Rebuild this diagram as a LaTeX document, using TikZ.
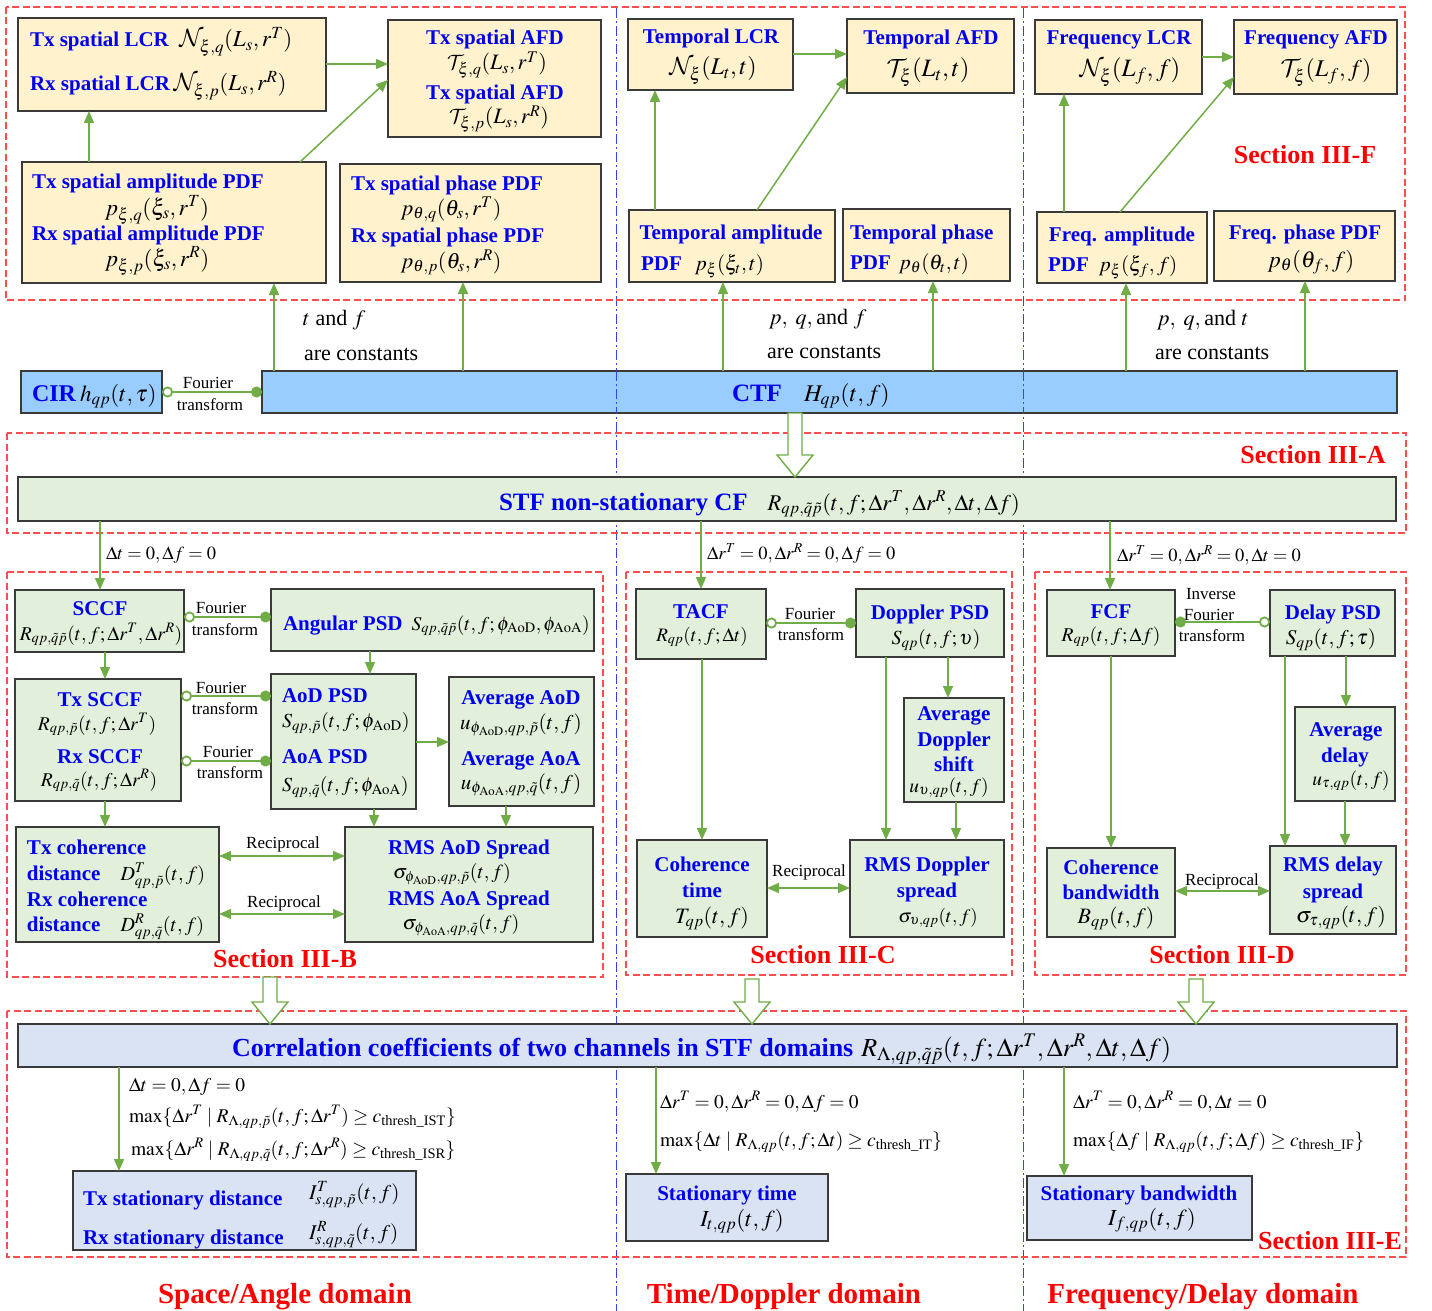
\documentclass[tikz,border=0pt]{standalone}
\usepackage{amsmath}
\usepackage{mathptmx}
\DeclareMathAlphabet{\mathcal}{OMS}{cmsy}{m}{n}
\usepackage{fontspec}
\setmainfont{Liberation Serif}
\usetikzlibrary{arrows.meta,fit,calc}
\definecolor{yel}{HTML}{FFF2CC}
\definecolor{grn}{HTML}{E2EFDA}
\definecolor{cblu}{HTML}{99CCFF}
\definecolor{lblu}{HTML}{DAE3F3}
\definecolor{tblue}{HTML}{0000F0}
\definecolor{bord}{HTML}{3A3A3A}
\definecolor{agreen}{HTML}{70AD47}
\definecolor{rdash}{HTML}{FF4D4D}
\definecolor{dblue}{HTML}{3344FF}
\definecolor{sred}{HTML}{FF0000}
\newcommand\myfs[1]{\fontsize{#1}{#1}\selectfont}
\newcommand\mk[2][20]{{\color{black}\myfs{#1}\mdseries$#2$}}
\newcommand\hollowarrow[2]{\draw[harrow] let \p1=(#1), \p2=(#2) in
  (\x1-7pt,\y1) -- (\x1+7pt,\y1) -- (\x1+7pt,\y2+22pt) -- (\x1+18pt,\y2+22pt) --
  (\x1,\y2) -- (\x1-18pt,\y2+22pt) -- (\x1-7pt,\y2+22pt) -- cycle;}
\tikzset{
  every node/.style={inner sep=0pt, outer sep=0pt},
  bx/.style={draw=bord, line width=1.3pt, inner sep=0pt},
  ybx/.style={bx, fill=yel}, gbx/.style={bx, fill=grn},
  cbx/.style={bx, fill=cblu}, lbx/.style={bx, fill=lblu},
  tb/.style={text=tblue, font=\myfs{21}\bfseries, anchor=base},
  tbw/.style={tb, anchor=base west},
  mt/.style={font=\myfs{22}, anchor=base},
  mtw/.style={mt, anchor=base west},
  txt/.style={font=\myfs{22}, anchor=base west},
  sm/.style={font=\myfs{17}, anchor=base},
  smw/.style={sm, anchor=base west},
  eq/.style={font=\myfs{19.5}, anchor=base west},
  sec/.style={text=sred, font=\myfs{26}\bfseries, anchor=base},
  domt/.style={text=sred, font=\myfs{29}\bfseries, anchor=base},
  arr/.style={draw=agreen, line width=1.5pt, -{Triangle[length=12pt,width=10pt]}},
  darr/.style={draw=agreen, line width=1.5pt, {Triangle[length=12pt,width=10pt]}-{Triangle[length=12pt,width=10pt]}},
  ft/.style={draw=agreen, line width=1.8pt, {Circle[length=11pt,width=11pt,fill=white]}-{Circle[length=11pt,width=11pt]}},
  ift/.style={draw=agreen, line width=1.8pt, {Circle[length=11pt,width=11pt]}-{Circle[length=11pt,width=11pt,fill=white]}},
  secbox/.style={draw=rdash, line width=1.1pt, dash pattern=on 7pt off 3.5pt},
  domline/.style={draw=dblue, line width=1pt, dash pattern=on 10pt off 3pt on 2pt off 3pt},
  harrow/.style={draw=agreen, line width=1.4pt, fill=white, line join=miter}
}
\begin{document}
\begin{tikzpicture}[x=1pt,y=-1pt]
\useasboundingbox (0,0) rectangle (1432,1311);
% domain separators
\draw[domline] (616,8) -- (616,1311);
\draw[domline] (1023,8) -- (1023,1311);
% section frames
\draw[secbox] (6,7) rectangle (1405,300);
\draw[secbox] (7,433) rectangle (1406,533);
\draw[secbox] (7,572) rectangle (603,977);
\draw[secbox] (626,572) rectangle (1012,975);
\draw[secbox] (1035,572) rectangle (1406,975);
\draw[secbox] (7,1011) rectangle (1406,1257);

% ---------- top boxes ----------
\node[ybx, fit={(18,18)(326,111)}] (lcr) {};
\node[ybx, fit={(388,20)(601,137)}] (afd) {};
\node[ybx, fit={(22,162)(326,283)}] (amp) {};
\node[ybx, fit={(340,164)(601,282)}] (pha) {};
\node[ybx, fit={(628,19)(793,90)}] (tlcr) {};
\node[ybx, fit={(847,19)(1014,93)}] (tafd) {};
\node[ybx, fit={(629,210)(835,282)}] (tamp) {};
\node[ybx, fit={(843,209)(1010,281)}] (tpha) {};
\node[ybx, fit={(1035,20)(1202,94)}] (flcr) {};
\node[ybx, fit={(1234,20)(1397,94)}] (fafd) {};
\node[ybx, fit={(1037,212)(1207,283)}] (famp) {};
\node[ybx, fit={(1214,211)(1395,281)}] (fpha) {};

\node[tbw] (lcrA) at (30,47) {Tx spatial LCR\enspace\mk[23]{\mathcal{N}_{\xi,q}(L_s,r^T)}};
\node[tbw] (lcrB) at (30,91) {Rx spatial LCR\,\mk[23]{\mathcal{N}_{\xi,p}(L_s,r^R)}};
\node[tb] (afdA) at (495,45) {Tx spatial AFD};
\node[mt] (afdB) at (497,70) {$\mathcal{T}_{\xi,q}(L_s,r^T)$};
\node[tb] (afdC) at (495,100) {Tx spatial AFD};
\node[mt] (afdD) at (499,124) {$\mathcal{T}_{\xi,p}(L_s,r^R)$};
\node[tbw] (ampA) at (32,188) {Tx spatial amplitude PDF};
\node[mt, font=\myfs{23}] (ampB) at (157,215) {$p_{\xi,q}(\xi_s,r^T)$};
\node[tbw] (ampC) at (32,240) {Rx spatial amplitude PDF};
\node[mt, font=\myfs{23}] (ampD) at (157,266) {$p_{\xi,p}(\xi_s,r^R)$};
\node[tbw] (phaA) at (351,190) {Tx spatial phase PDF};
\node[mt] (phaB) at (451,215) {$p_{\theta,q}(\theta_s,r^T)$};
\node[tbw] (phaC) at (351,242) {Rx spatial phase PDF};
\node[mt] (phaD) at (451,268) {$p_{\theta,p}(\theta_s,r^R)$};
\node[tb] (tlcrA) at (711,44) {Temporal LCR};
\node[mt, font=\myfs{24}] (tlcrB) at (713,75) {$\mathcal{N}_{\xi}(L_t,t)$};
\node[tb] (tafdA) at (931,45) {Temporal AFD};
\node[mt, font=\myfs{25}] (tafdB) at (928,77) {$\mathcal{T}_{\xi}(L_t,t)$};
\node[tb] (tampA) at (731,239) {Temporal amplitude};
\node[tbw] (tampB) at (641,270) {PDF\hspace{13pt}\mk[21]{p_{\xi}(\xi_t,t)}};
\node[tbw] (tphaA) at (850,239) {Temporal phase};
\node[tbw] (tphaB) at (850,269) {PDF\hspace{8pt}\mk[21]{p_{\theta}(\theta_t,t)}};
\node[tb] (flcrA) at (1119,45) {Frequency LCR};
\node[mt, font=\myfs{25}] (flcrB) at (1130,77) {$\mathcal{N}_{\xi}(L_f,f)$};
\node[tb] (fafdA) at (1316,45) {Frequency AFD};
\node[mt, font=\myfs{24}] (fafdB) at (1326,77) {$\mathcal{T}_{\xi}(L_f,f)$};
\node[tb] (fampA) at (1122,241) {Freq. amplitude};
\node[tbw] (fampB) at (1048,271) {PDF\hspace{10pt}\mk[21]{p_{\xi}(\xi_f,f)}};
\node[tb] (fphaA) at (1305,239) {Freq. phase PDF};
\node[mt, font=\myfs{23}] (fphaB) at (1311,267) {$p_{\theta}(\theta_f,f)$};
\node[sec] (secF) at (1305,164) {Section III-F};

\draw[arr] (amp.north -| 89,0) -- (lcr.south -| 89,0);
\draw[arr] (amp.north -| 300,0) -- (afd.west |- 0,80);
\draw[arr] (lcr.east |- 0,64) -- (afd.west |- 0,64);
\draw[arr] (tamp.north -| 655,0) -- (tlcr.south -| 655,0);
\draw[arr] (tamp.north -| 757,0) -- (tafd.west |- 0,77);
\draw[arr] (tlcr.east |- 0,54) -- (tafd.west |- 0,54);
\draw[arr] (famp.north -| 1064,0) -- (flcr.south -| 1064,0);
\draw[arr] (famp.north -| 1120,0) -- (fafd.west |- 0,77);
\draw[arr] (flcr.east |- 0,57) -- (fafd.west |- 0,57);

% ---------- CIR / CTF ----------
\node[cbx, fit={(21,371)(162,413)}] (cir) {};
\node[cbx, fit={(262,371)(1397,413)}] (ctf) {};
\draw[domline] (ctf.north -| 616,0) -- (ctf.south -| 616,0);
\draw[domline] (ctf.north -| 1023,0) -- (ctf.south -| 1023,0);
\node[tbw, font=\myfs{24}\bfseries] (cirT) at (32,401) {CIR\,\mk[23]{h_{qp}(t,\tau)}};
\node[sm] (ftA) at (208,388) {Fourier};
\node[sm] (ftB) at (210,410) {transform};
\node[tbw, font=\myfs{25}\bfseries] (ctfT) at (732,401) {CTF\hspace{22pt}\mk[24]{H_{qp}(t,f)}};
\draw[ft] (cir.east |- 0,392) -- (ctf.west |- 0,392);
\foreach \xx/\tg in {274/amp,463/pha,723/tamp,933/tpha,1126/famp,1305/fpha}
  \draw[arr] (ctf.north -| \xx,0) -- (\tg.south -| \xx,0);
\node[txt] (c1a) at (303,325) {$t$ and $f$};
\node[txt] (c1b) at (304,360) {are constants};
\node[txt] (c2a) at (769,324) {$p,\ q,$\,and $f$};
\node[txt] (c2b) at (767,358) {are constants};
\node[txt] (c3a) at (1157,325) {$p,\ q,$\,and $t$};
\node[txt] (c3b) at (1155,359) {are constants};

% ---------- STF ----------
\node[gbx, fit={(18,477)(1396,521)}] (stf) {};
\node[tbw, font=\myfs{25}\bfseries] (stfT) at (499,510) {STF non-stationary CF\hspace{20pt}\mk[22.5]{R_{qp,\tilde{q}\tilde{p}}(t,f;\Delta r^T,\Delta r^R,\Delta t,\Delta f)}};
\node[sec] (secA) at (1313,463) {Section III-A};
\hollowarrow{ctf.south -| 795,0}{stf.north -| 795,0}

\node[smw, font=\myfs{18.5}] (condB) at (106,559) {$\Delta t=0,\Delta f=0$};
\node[smw, font=\myfs{18.5}] (condC) at (707,559) {$\Delta r^T=0,\Delta r^R=0,\Delta f=0$};
\node[smw, font=\myfs{18.5}] (condD) at (1117,561) {$\Delta r^T=0,\Delta r^R=0,\Delta t=0$};

% ---------- Section III-B ----------
\node[gbx, fit={(15,590)(184,652)}] (sccf) {};
\node[gbx, fit={(271,589)(594,651)}] (apsd) {};
\node[gbx, fit={(15,679)(181,801)}] (txsccf) {};
\node[gbx, fit={(271,674)(416,809)}] (aodpsd) {};
\node[gbx, fit={(449,677)(594,806)}] (avgaod) {};
\node[gbx, fit={(16,827)(219,942)}] (coh) {};
\node[gbx, fit={(345,827)(593,942)}] (rms) {};

\node[tb] (sccfA) at (100,615) {SCCF};
\node[mt] (sccfB) at (101,640) {\mk[19.5]{R_{qp,\tilde{q}\tilde{p}}(t,f;\Delta r^T,\Delta r^R)}};
\node[tbw] (apsdA) at (283,630) {Angular PSD\hspace{9pt}\mk[19.5]{S_{qp,\tilde{q}\tilde{p}}(t,f;\phi_{\mathrm{AoD}},\phi_{\mathrm{AoA}})}};
\node[sm] (ft1a) at (221,613) {Fourier};
\node[sm] (ft1b) at (225,635) {transform};
\node[tb] (txsA) at (100,706) {Tx SCCF};
\node[mt] (txsB) at (97,730) {\mk[19.5]{R_{qp,\tilde{p}}(t,f;\Delta r^T)}};
\node[tb] (rxsA) at (100,763) {Rx SCCF};
\node[mt] (rxsB) at (99,786) {\mk[19.5]{R_{qp,\tilde{q}}(t,f;\Delta r^R)}};
\node[sm] (ft2a) at (221,693) {Fourier};
\node[sm] (ft2b) at (225,714) {transform};
\node[sm] (ft3a) at (228,757) {Fourier};
\node[sm] (ft3b) at (230,778) {transform};
\node[tbw] (aodA) at (282,702) {AoD PSD};
\node[mtw] (aodB) at (282,727) {\mk[20]{S_{qp,\tilde{p}}(t,f;\phi_{\mathrm{AoD}})}};
\node[tbw] (aoaA) at (282,763) {AoA PSD};
\node[mtw] (aoaB) at (282,791) {\mk[20]{S_{qp,\tilde{q}}(t,f;\phi_{\mathrm{AoA}})}};
\node[tb] (avA) at (521,704) {Average AoD};
\node[mt] (avB) at (521,729) {\mk[21]{u_{\phi_{\mathrm{AoD}},qp,\tilde{p}}(t,f)}};
\node[tb] (avC) at (521,765) {Average AoA};
\node[mt] (avD) at (521,789) {\mk[21]{u_{\phi_{\mathrm{AoA}},qp,\tilde{q}}(t,f)}};
\node[tbw] (cohA) at (27,854) {Tx coherence};
\node[tbw] (cohB) at (27,880) {distance\hspace{20pt}\mk[20]{D^T_{qp,\tilde{p}}(t,f)}};
\node[tbw] (cohC) at (27,906) {Rx coherence};
\node[tbw] (cohD) at (27,931) {distance\hspace{20pt}\mk[20]{D^R_{qp,\tilde{q}}(t,f)}};
\node[tb] (rmsA) at (469,854) {RMS AoD Spread};
\node[mt] (rmsB) at (452,878) {\mk[20]{\sigma_{\phi_{\mathrm{AoD}},qp,\tilde{p}}(t,f)}};
\node[tb] (rmsC) at (469,905) {RMS AoA Spread};
\node[mt] (rmsD) at (461,929) {\mk[20]{\sigma_{\phi_{\mathrm{AoA}},qp,\tilde{q}}(t,f)}};
\node[sm] (rec1) at (283,848) {Reciprocal};
\node[sm] (rec2) at (284,907) {Reciprocal};
\node[sec] (secB) at (285,967) {Section III-B};

\draw[arr] (stf.south -| 100,0) -- (sccf.north -| 100,0);
\draw[ft] (sccf.east |- 0,617) -- (apsd.west |- 0,617);
\draw[arr] (sccf.south -| 105,0) -- (txsccf.north -| 105,0);
\draw[arr] (apsd.south -| 370,0) -- (aodpsd.north -| 370,0);
\draw[ft] (txsccf.east |- 0,696) -- (aodpsd.west |- 0,696);
\draw[ft] (txsccf.east |- 0,761) -- (aodpsd.west |- 0,761);
\draw[arr] (aodpsd.east |- 0,742) -- (avgaod.west |- 0,742);
\draw[arr] (txsccf.south -| 105,0) -- (coh.north -| 105,0);
\draw[arr] (aodpsd.south -| 374,0) -- (rms.north -| 374,0);
\draw[arr] (avgaod.south -| 506,0) -- (rms.north -| 506,0);
\draw[darr] (coh.east |- 0,856) -- (rms.west |- 0,856);
\draw[darr] (coh.east |- 0,914) -- (rms.west |- 0,914);

% ---------- Section III-C ----------
\node[gbx, fit={(636,589)(766,659)}] (tacf) {};
\node[gbx, fit={(856,589)(1004,657)}] (dpsd) {};
\node[gbx, fit={(904,698)(1004,802)}] (avgd) {};
\node[gbx, fit={(637,840)(767,937)}] (ctime) {};
\node[gbx, fit={(850,840)(1004,937)}] (rmsd) {};
\node[tb] (tacfA) at (701,618) {TACF};
\node[mt] (tacfB) at (702,641) {\mk[19]{R_{qp}(t,f;\Delta t)}};
\node[sm] (ft4a) at (810,619) {Fourier};
\node[sm] (ft4b) at (811,640) {transform};
\node[tb] (dpsdA) at (930,619) {Doppler PSD};
\node[mt] (dpsdB) at (936,644) {\mk[20]{S_{qp}(t,f;\upsilon)}};
\node[tb] (avgdA) at (954,720) {Average};
\node[tb] (avgdB) at (954,746) {Doppler};
\node[tb] (avgdC) at (954,771) {shift};
\node[mt] (avgdD) at (949,792) {\mk[19.5]{u_{\upsilon,qp}(t,f)}};
\node[tb] (ctA) at (702,871) {Coherence};
\node[tb] (ctB) at (702,897) {time};
\node[mt] (ctC) at (712,923) {\mk[22]{T_{qp}(t,f)}};
\node[tb] (rdA) at (927,871) {RMS Doppler};
\node[tb] (rdB) at (927,897) {spread};
\node[mt] (rdC) at (938,922) {\mk[19]{\sigma_{\upsilon,qp}(t,f)}};
\node[sm] (rec3) at (809,876) {Reciprocal};
\node[sec] (secC) at (823,963) {Section III-C};

\draw[arr] (stf.south -| 701,0) -- (tacf.north -| 701,0);
\draw[ft] (tacf.east |- 0,623) -- (dpsd.west |- 0,623);
\draw[arr] (tacf.south -| 702,0) -- (ctime.north -| 702,0);
\draw[arr] (dpsd.south -| 886,0) -- (rmsd.north -| 886,0);
\draw[arr] (dpsd.south -| 948,0) -- (avgd.north -| 948,0);
\draw[arr] (avgd.south -| 956,0) -- (rmsd.north -| 956,0);
\draw[darr] (ctime.east |- 0,888) -- (rmsd.west |- 0,888);

% ---------- Section III-D ----------
\node[gbx, fit={(1047,590)(1175,656)}] (fcf) {};
\node[gbx, fit={(1270,590)(1395,656)}] (delpsd) {};
\node[gbx, fit={(1295,707)(1395,801)}] (avgdel) {};
\node[gbx, fit={(1047,848)(1175,937)}] (cbw) {};
\node[gbx, fit={(1270,846)(1396,934)}] (rmsdel) {};
\node[tb] (fcfA) at (1111,618) {FCF};
\node[mt] (fcfB) at (1111,641) {\mk[19.5]{R_{qp}(t,f;\Delta f)}};
\node[sm] (ift1) at (1211,599) {Inverse};
\node[sm] (ift2) at (1209,620) {Fourier};
\node[sm] (ift3) at (1212,641) {transform};
\node[tb] (dlA) at (1333,619) {Delay PSD};
\node[mt] (dlB) at (1331,644) {\mk[21]{S_{qp}(t,f;\tau)}};
\node[tb] (adA) at (1346,736) {Average};
\node[tb] (adB) at (1345,762) {delay};
\node[mt] (adC) at (1351,785) {\mk[19.5]{u_{\tau,qp}(t,f)}};
\node[tb] (cbA) at (1111,874) {Coherence};
\node[tb] (cbB) at (1111,899) {bandwidth};
\node[mt] (cbC) at (1116,923) {\mk[22]{B_{qp}(t,f)}};
\node[tb] (rdlA) at (1333,871) {RMS delay};
\node[tb] (rdlB) at (1333,898) {spread};
\node[mt] (rdlC) at (1341,922) {\mk[22]{\sigma_{\tau,qp}(t,f)}};
\node[sm] (rec4) at (1222,885) {Reciprocal};
\node[sec] (secD) at (1222,963) {Section III-D};

\draw[arr] (stf.south -| 1110,0) -- (fcf.north -| 1110,0);
\draw[ift] (fcf.east |- 0,622) -- (delpsd.west |- 0,622);
\draw[arr] (fcf.south -| 1111,0) -- (cbw.north -| 1111,0);
\draw[arr] (delpsd.south -| 1285,0) -- (rmsdel.north -| 1285,0);
\draw[arr] (delpsd.south -| 1346,0) -- (avgdel.north -| 1346,0);
\draw[arr] (avgdel.south -| 1345,0) -- (rmsdel.north -| 1345,0);
\draw[darr] (cbw.east |- 0,891) -- (rmsdel.west |- 0,891);

% ---------- Section III-E ----------
\node[lbx, fit={(18,1024)(1397,1067)}] (corr) {};
\node[tbw, font=\myfs{26}\bfseries] (corrT) at (232,1056) {Correlation coefficients of two channels in STF domains\hspace{8pt}\mk[26]{R_{\Lambda,qp,\tilde{q}\tilde{p}}(t,f;\Delta r^T,\Delta r^R,\Delta t,\Delta f)}};
\coordinate (hbB) at (270,977);
\coordinate (hbC) at (752,979);
\coordinate (hbD) at (1196,979);
\hollowarrow{hbB}{corr.north -| 270,0}
\hollowarrow{hbC}{corr.north -| 752,0}
\hollowarrow{hbD}{corr.north -| 1196,0}

\node[lbx, fit={(73,1171)(416,1250)}] (txsd) {};
\node[lbx, fit={(626,1174)(828,1241)}] (stime) {};
\node[lbx, fit={(1027,1176)(1252,1240)}] (sbw) {};
\node[eq] (eA1) at (129,1091) {$\Delta t=0,\Delta f=0$};
\node[eq] (eA2) at (129,1122) {$\max\{\Delta r^T\mid R_{\Lambda,qp,\tilde{p}}(t,f;\Delta r^T)\geq c_{\text{thresh\_IST}}\}$};
\node[eq] (eA3) at (131,1155) {$\max\{\Delta r^R\mid R_{\Lambda,qp,\tilde{q}}(t,f;\Delta r^R)\geq c_{\text{thresh\_ISR}}\}$};
\node[eq] (eB1) at (660,1108) {$\Delta r^T=0,\Delta r^R=0,\Delta f=0$};
\node[eq] (eB2) at (660,1146) {$\max\{\Delta t\mid R_{\Lambda,qp}(t,f;\Delta t)\geq c_{\text{thresh\_IT}}\}$};
\node[eq] (eC1) at (1073,1108) {$\Delta r^T=0,\Delta r^R=0,\Delta t=0$};
\node[eq] (eC2) at (1073,1146) {$\max\{\Delta f\mid R_{\Lambda,qp}(t,f;\Delta f)\geq c_{\text{thresh\_IF}}\}$};
\node[tbw] (sdA) at (83,1205) {Tx stationary distance};
\node[mtw, font=\myfs{21}] (sdB) at (309,1199) {$I^T_{s,qp,\tilde{p}}(t,f)$};
\node[tbw] (sdC) at (83,1244) {Rx stationary distance};
\node[mtw, font=\myfs{21}] (sdD) at (309,1239) {$I^R_{s,qp,\tilde{q}}(t,f)$};
\node[tb] (stA) at (727,1200) {Stationary time};
\node[mt, font=\myfs{23}] (stB) at (742,1226) {$I_{t,qp}(t,f)$};
\node[tb] (sbA) at (1139,1200) {Stationary bandwidth};
\node[mt, font=\myfs{23}] (sbB) at (1152,1225) {$I_{f,qp}(t,f)$};
\node[sec] (secE) at (1330,1249) {Section III-E};
\draw[arr] (corr.south -| 119,0) -- (txsd.north -| 119,0);
\draw[arr] (corr.south -| 656,0) -- (stime.north -| 656,0);
\draw[arr] (corr.south -| 1064,0) -- (sbw.north -| 1064,0);

% ---------- domain titles ----------
\node[domt] (dom1) at (285,1303) {Space/Angle domain};
\node[domt] (dom2) at (784,1303) {Time/Doppler domain};
\node[domt] (dom3) at (1203,1303) {Frequency/Delay domain};
\end{tikzpicture}
\end{document}
